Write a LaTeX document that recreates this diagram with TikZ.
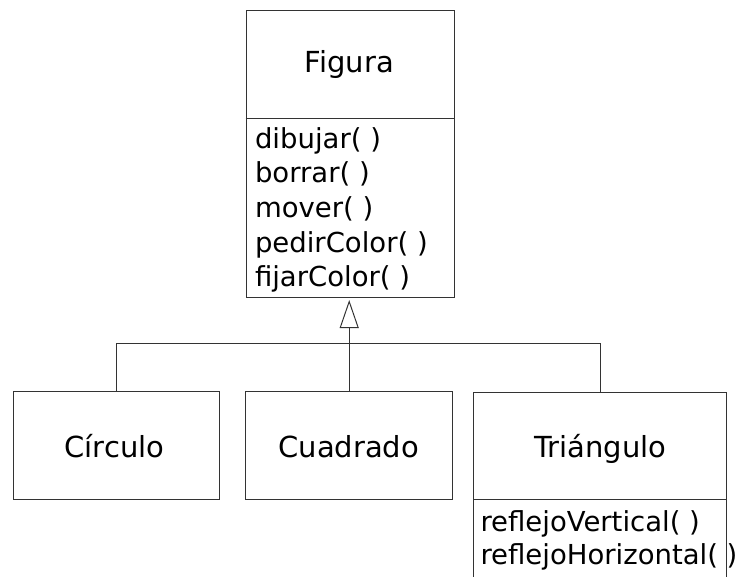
\documentclass[tikz,border=0pt]{standalone}
\usepackage{fontspec}
\setmainfont{DejaVu Sans}
\usetikzlibrary{arrows.meta}
\begin{document}
\begin{tikzpicture}[x=1pt,y=-1pt,line width=1pt,
  box/.style={draw=black!80,rectangle,inner sep=0pt,anchor=north west},
  lbl/.style={font=\fontsize{29}{35}\selectfont,anchor=base,inner sep=0pt},
  item/.style={font=\fontsize{27.5}{34.5}\selectfont,anchor=base west,inner sep=0pt},
  link/.style={draw=black!80},
  gen/.style={link,-{Triangle[open,width=19pt,length=28pt]}}]
\useasboundingbox (0,0) rectangle (741,576);
\clip (0,0) rectangle (741,576);
% class boxes
\node[box,minimum width=208pt,minimum height=287pt] (fig) at (245.5,10) {};
\node[box,minimum width=206pt,minimum height=108pt] (cir) at (12.7,391) {};
\node[box,minimum width=207pt,minimum height=108pt] (cua) at (245.2,391) {};
\node[box,minimum width=252.5pt,minimum height=220pt] (tri) at (473.3,391.5) {};
% compartment dividers
\draw[link] (245.5,118.3) -- (453.5,118.3);
\draw[link] (473.3,499) -- (725.8,499);
% texts
\node[lbl] (tfig) at (349.2,72.7) {Figura};
\node[item] (m1) at (254.5,148.3) {dibujar( )};
\node[item] (m2) at (254.5,182.9) {borrar( )};
\node[item] (m3) at (254.5,217.5) {mover( )};
\node[item] (m4) at (254.5,252.1) {pedirColor( )};
\node[item] (m5) at (254.5,286.7) {fijarColor( )};
\node[lbl] (tcir) at (114.5,457.3) {Círculo};
\node[lbl] (tcua) at (348.8,457.3) {Cuadrado};
\node[lbl] (ttri) at (600.3,457.3) {Triángulo};
\node[item] (r1) at (480,531.7) {reflejoVertical( )};
\node[item] (r2) at (480,564.5) {reflejoHorizontal( )};
% generalization
\coordinate (bar) at (348.5,343.3);
\draw[gen] (cua.north) -- ([yshift=-2pt]cua.north |- fig.south);
\draw[link] (cir.north) -- (cir.north |- bar) -- (tri.north |- bar) -- (tri.north);
\end{tikzpicture}
\end{document}
